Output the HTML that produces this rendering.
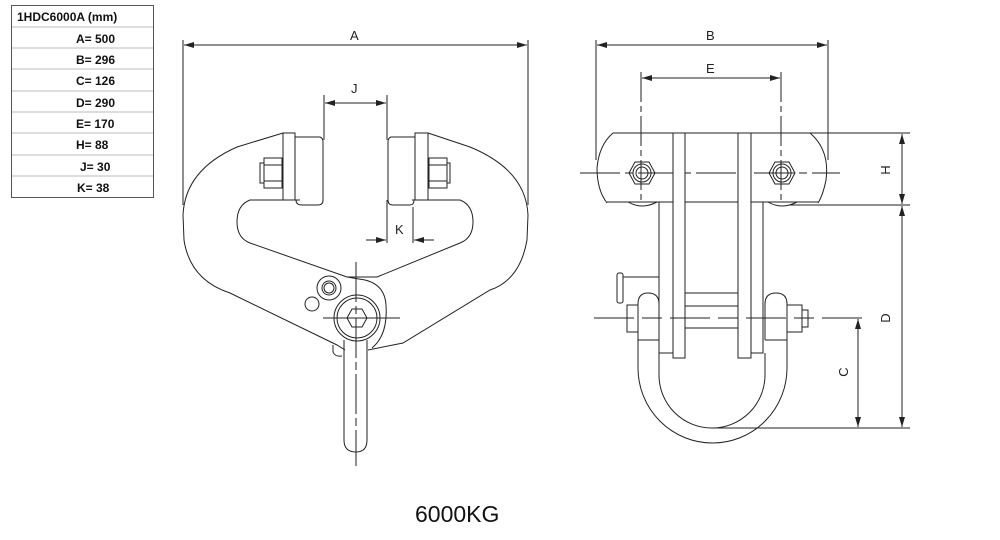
<!DOCTYPE html>
<html><head><meta charset="utf-8"><style>
body{margin:0;background:#fff;}
svg{display:block;font-family:"Liberation Sans",sans-serif;}
</style></head><body>
<svg width="1000" height="540" viewBox="0 0 1000 540" xmlns="http://www.w3.org/2000/svg">
<defs>
<marker id="ar" viewBox="0 0 10 6" refX="10" refY="3" markerWidth="10" markerHeight="6" orient="auto-start-reverse" markerUnits="userSpaceOnUse"><path d="M0,0 L10,3 L0,6 z" fill="#222"/></marker>
</defs>
<!-- table -->
<g font-weight="bold" font-size="12" fill="#111">
<rect x="11.5" y="5.5" width="142" height="192" fill="#fff" stroke="#555"/>
<g stroke="#bbb">
<line x1="12" y1="27" x2="153" y2="27"/><line x1="12" y1="48" x2="153" y2="48"/>
<line x1="12" y1="69" x2="153" y2="69"/><line x1="12" y1="91" x2="153" y2="91"/>
<line x1="12" y1="112" x2="153" y2="112"/><line x1="12" y1="133" x2="153" y2="133"/>
<line x1="12" y1="155" x2="153" y2="155"/><line x1="12" y1="176" x2="153" y2="176"/>
</g>
<text x="17" y="21">1HDC6000A  (mm)</text>
<text x="76" y="43">A= 500</text><text x="76" y="64">B= 296</text>
<text x="76" y="85">C= 126</text><text x="76" y="107">D= 290</text>
<text x="76" y="128">E= 170</text><text x="76" y="149">H= 88</text>
<text x="80" y="171">J= 30</text><text x="77" y="192">K= 38</text>
</g>
<g fill="none" stroke="#222" stroke-width="1">
<!-- A dim -->
<line x1="183" y1="40" x2="183" y2="205"/><line x1="528" y1="40" x2="528" y2="205"/>
<line x1="184" y1="45" x2="527" y2="45" marker-start="url(#ar)" marker-end="url(#ar)"/>
<line x1="324" y1="95" x2="324" y2="140"/><line x1="387" y1="95" x2="387" y2="140"/>
<line x1="325" y1="103" x2="386" y2="103" marker-start="url(#ar)" marker-end="url(#ar)"/>
<!-- body -->
<path d="M283,133 L237,147 Q185,170 183,215 L184,240 Q190,280 230,293 L337,345 L345,350"/>
<path d="M428,133 L470,147 Q526,170 528,215 L527,240 Q520,280 490,290 L403,343 L368,350"/>
<path d="M300,200 L250,200 Q237,205 237,222 Q237,238 250,243 L347,277 L377,277 L460,243 Q473,238 473,222 Q473,205 460,200 L412,200"/>
<!-- left roller -->
<rect x="283" y="133" width="12" height="67"/>
<path d="M295,137 L320,137 Q323,138 323,142 L323,200 Q323,205 318,205 L302,205 Q296,205 296,200"/>
<rect x="264" y="158" width="18" height="30"/><line x1="264" y1="165" x2="282" y2="165"/><line x1="264" y1="181" x2="282" y2="181"/>
<rect x="260" y="163" width="4" height="20"/>
<rect x="415" y="133" width="13" height="67"/>
<path d="M415,137 L391,137 Q388,138 388,142 L388,200 Q388,205 393,205 L410,205 Q414,205 414,200"/>
<rect x="429" y="158" width="18" height="30"/><line x1="429" y1="165" x2="447" y2="165"/><line x1="429" y1="181" x2="447" y2="181"/>
<rect x="447" y="163" width="3" height="20"/>
<!-- K -->
<line x1="387" y1="200" x2="387" y2="243"/><line x1="413" y1="207" x2="413" y2="243"/>
<line x1="366" y1="240" x2="386" y2="240" marker-end="url(#ar)"/><line x1="434" y1="240" x2="414" y2="240" marker-end="url(#ar)"/>
<!-- eye -->
<path d="M347,277 L365,280 Q385,285 386,305 Q388,335 372,348"/>
<circle cx="357" cy="318" r="23"/><circle cx="357" cy="318" r="20"/>
<polygon points="347,318 352,309 362,309 367,318 362,327 352,327"/>
<circle cx="329" cy="288" r="12"/><circle cx="329" cy="288" r="7"/><circle cx="329" cy="288" r="5"/>
<circle cx="312" cy="304" r="7"/>
<path d="M344,340 L344,440 Q344,452 356,452 Q367,452 367,440 L367,340"/>
<path d="M333,345 L333,352 Q335,357 342,356"/>
<line x1="356" y1="262" x2="356" y2="466" stroke-dasharray="40,4,8,4"/>
<line x1="323" y1="318" x2="400" y2="318"/>
</g>
<g font-size="13" fill="#222"><text x="350" y="40">A</text><text x="351" y="93">J</text><text x="395" y="234">K</text></g>

<!-- right view -->
<g fill="none" stroke="#222" stroke-width="1">
<line x1="596" y1="40" x2="596" y2="160"/><line x1="828" y1="40" x2="828" y2="160"/>
<line x1="597" y1="45" x2="827" y2="45" marker-start="url(#ar)" marker-end="url(#ar)"/>
<line x1="641" y1="72" x2="641" y2="200" stroke-dasharray="30,4,6,4"/><line x1="781" y1="72" x2="781" y2="200" stroke-dasharray="30,4,6,4"/>
<line x1="642" y1="78" x2="780" y2="78" marker-start="url(#ar)" marker-end="url(#ar)"/>
<path d="M613,133 L810,133 Q830,150 826,180 Q823,195 818,203 M607,203 Q597,190 597,168 Q599,145 613,133 M607,202 L818,202"/>
<path d="M628,202 Q642,210 657,202 M768,202 Q782,210 797,202"/>
<line x1="580" y1="173" x2="840" y2="173" stroke-dasharray="40,5,8,5"/>
<polygon points="629,173 635,162 649,162 655,173 649,184 635,184"/><circle cx="642" cy="173" r="9"/><circle cx="642" cy="173" r="6"/>
<polygon points="769,173 775,162 789,162 795,173 789,184 775,184"/><circle cx="782" cy="173" r="9"/><circle cx="782" cy="173" r="6"/>
<rect x="673" y="133" width="12" height="225" fill="#fff"/>
<rect x="738" y="133" width="13" height="225" fill="#fff"/>
<rect x="659" y="202" width="14" height="151"/>
<rect x="751" y="202" width="12" height="151"/>
<rect x="685" y="293" width="53" height="35"/><line x1="685" y1="306" x2="738" y2="306"/>
<path d="M638,340 L638,304 Q638,293 648,293 Q659,293 659,304 L659,340"/>
<path d="M765,340 L765,304 Q765,293 776,293 Q787,293 787,304 L787,340"/>
<line x1="638" y1="340" x2="659" y2="340"/><line x1="765" y1="340" x2="787" y2="340"/>
<path d="M638,340 L638,368 A74.5,75 0 0 0 787,368 L787,340"/>
<path d="M659,353 L659,375 A53,53 0 0 0 765,375 L765,353"/>
<rect x="627" y="305" width="11" height="27"/>
<rect x="787" y="305" width="15" height="27"/><rect x="802" y="310" width="6" height="17"/>
<rect x="617" y="273" width="6" height="30" rx="2"/><line x1="623" y1="277" x2="659" y2="277"/>
<line x1="594" y1="318" x2="862" y2="318" stroke-dasharray="40,8,20,8"/>
<line x1="810" y1="133" x2="910" y2="133"/><line x1="790" y1="205" x2="910" y2="205"/>
<line x1="712" y1="428" x2="910" y2="428"/>
<line x1="840" y1="318" x2="862" y2="318"/>
<line x1="902" y1="134" x2="902" y2="204" marker-start="url(#ar)" marker-end="url(#ar)"/>
<line x1="902" y1="206" x2="902" y2="427" marker-start="url(#ar)" marker-end="url(#ar)"/>
<line x1="858" y1="319" x2="858" y2="427" marker-start="url(#ar)" marker-end="url(#ar)"/>
</g>
<g font-size="13" fill="#222">
<text x="706" y="40">B</text><text x="706" y="73">E</text>
<text transform="translate(890,170) rotate(-90)" text-anchor="middle">H</text>
<text transform="translate(890,318) rotate(-90)" text-anchor="middle">D</text>
<text transform="translate(848,372) rotate(-90)" text-anchor="middle">C</text>
</g>
<text x="415" y="522" font-size="23" fill="#111">6000KG</text>
</svg>
</body></html>
